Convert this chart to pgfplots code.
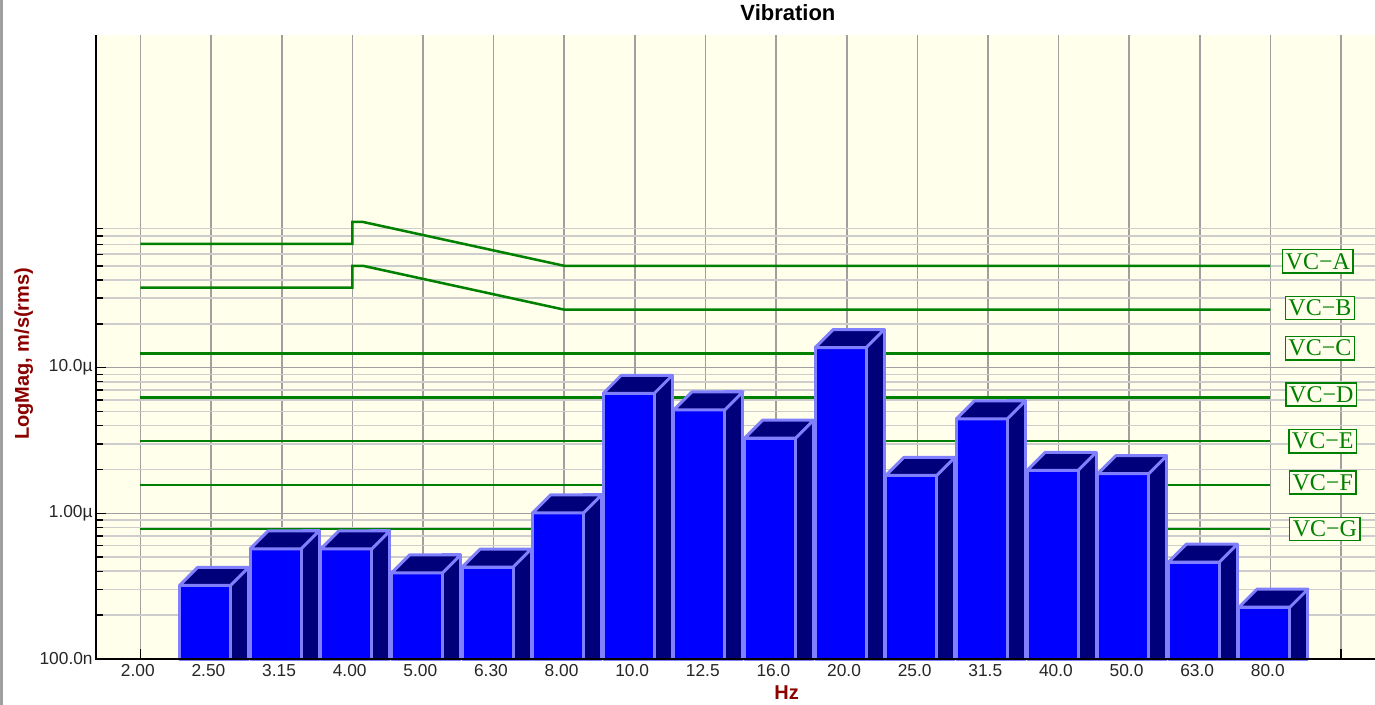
\documentclass[border=0pt]{standalone}
\usepackage{pgfplots}
\pgfplotsset{compat=1.18}
\usepackage{pgfplotstable}
\usepackage{fontspec}
\setmainfont{Liberation Sans}
\newfontfamily\vcfont{Liberation Serif}

\definecolor{bgy}{RGB}{255,255,236}
\definecolor{barblue}{RGB}{0,0,255}
\definecolor{barnavy}{RGB}{0,0,122}
\definecolor{baredge}{RGB}{128,128,255}
\definecolor{vcgreen}{RGB}{0,128,0}
\definecolor{lblred}{RGB}{140,0,0}
\definecolor{gridmaj}{RGB}{160,160,160}
\definecolor{gridmin}{RGB}{205,205,205}

\pgfplotstableread{
x v
1  3.20e-7
2  5.71e-7
3  5.71e-7
4  3.90e-7
5  4.27e-7
6  1.008e-6
7  6.67e-6
8  5.13e-6
9  3.28e-6
10 1.374e-5
11 1.82e-6
12 4.45e-6
13 1.97e-6
14 1.87e-6
15 4.62e-7
16 2.27e-7
}\bars

% top face of a 3D bar, drawn at the top centre of the category
\pgfdeclareplotmark{topface}{%
  \pgfpathmoveto{\pgfpoint{-23.625pt}{0pt}}%
  \pgfpathlineto{\pgfpoint{14.625pt}{0pt}}%
  \pgfpathlineto{\pgfpoint{28.125pt}{13.5pt}}%
  \pgfpathlineto{\pgfpoint{-10.125pt}{13.5pt}}%
  \pgfpathclose
  \pgfusepathqfillstroke
}

\begin{document}
\begin{tikzpicture}
\useasboundingbox (0,0) rectangle (1031.25pt,528.75pt);
\fill[white] (0,0) rectangle (1031.25pt,528.75pt);
\fill[gray!75] (0,0) rectangle (2.25pt,528.75pt);
\begin{axis}[
  at={(72pt,34.5pt)}, anchor=south west,
  scale only axis,
  width=959.25pt, height=468pt,
  xmin=-0.630, xmax=17.48,
  ymode=log, ymin=1e-7, ymax=1.92e-3,
  log origin y=infty,
  axis background/.style={fill=bgy},
  axis line style={draw=none},
  xtick={0,...,17},
  xticklabels={2.00,2.50,3.15,4.00,5.00,6.30,8.00,10.0,12.5,16.0,20.0,25.0,31.5,40.0,50.0,63.0,80.0,{}},
  ytick={1e-7,1e-6,1e-5},
  yticklabels={100.0n,1.00µ,10.0µ},
  minor ytick={2e-7,3e-7,4e-7,5e-7,6e-7,7e-7,8e-7,9e-7,
               2e-6,3e-6,4e-6,5e-6,6e-6,7e-6,8e-6,9e-6,
               2e-5,3e-5,4e-5,5e-5,6e-5,7e-5,8e-5,9e-5},
  tick pos=left,
  tick align=inside,
  major tick length=7.5pt,
  minor tick length=5.25pt,
  tick style={black, line width=1.1pt},
  grid=both,
  major grid style={gridmaj, line width=1.2pt},
  minor grid style={gridmin, line width=1.2pt},
  /pgf/number format/assume math mode=true,
  ticklabel style={font=\fontsize{13}{15}\selectfont, text=black!85},
  xticklabel style={anchor=center, yshift=-9pt, xshift=-2pt},
  yticklabel style={xshift=1pt},
  every axis title shift=0pt,
  title={Vibration},
  title style={font=\bfseries\fontsize{16.5}{19}\selectfont, at={(0.541,1.0353)}, anchor=center},
  xlabel={Hz},
  xlabel style={font=\bfseries\fontsize{15}{17}\selectfont, text=lblred, at={(0.540,-0.0545)}, anchor=center},
  ylabel={LogMag, m/s(rms)},
  ylabel style={font=\bfseries\fontsize{15}{17}\selectfont, text=lblred, at={(-0.0565,0.489)}, anchor=center, rotate=0},
  clip=false,
]
% vibration criteria lines
\addplot[vcgreen, line width=1.9pt] coordinates {(0,7.07e-5) (3,7.07e-5) (3,1e-4) (3.15,1e-4) (6,5e-5) (16,5e-5)};
\addplot[vcgreen, line width=1.9pt] coordinates {(0,3.54e-5) (3,3.54e-5) (3,5e-5) (3.15,5e-5) (6,2.5e-5) (16,2.5e-5)};
\addplot[vcgreen, line width=1.9pt] coordinates {(0,1.25e-5) (16,1.25e-5)};
\addplot[vcgreen, line width=1.9pt] coordinates {(0,6.25e-6) (16,6.25e-6)};
\addplot[vcgreen, line width=1.9pt] coordinates {(0,3.125e-6) (16,3.125e-6)};
\addplot[vcgreen, line width=1.9pt] coordinates {(0,1.5625e-6) (16,1.5625e-6)};
\addplot[vcgreen, line width=1.9pt] coordinates {(0,7.8e-7) (16,7.8e-7)};

% 3D bars: side face, front face, top face
\addplot[ybar, bar width=13.5pt, bar shift=21.375pt, fill=barnavy, draw=baredge, line width=2.25pt, line join=round]
  table[x=x, y expr=\thisrow{v}*1.329] {\bars};
\addplot[ybar, bar width=38.25pt, bar shift=-4.5pt, fill=barblue, draw=baredge, line width=2.25pt, line join=round]
  table[x=x, y=v] {\bars};
\addplot[only marks, mark=topface, mark options={fill=barnavy, draw=baredge, line width=2.25pt, line join=round}]
  table[x=x, y=v] {\bars};

% labels of the criteria
\tikzset{vclab/.style={draw=vcgreen, line width=1.1pt, fill=bgy, text=vcgreen,
  font=\vcfont\fontsize{18}{20}\selectfont, inner xsep=2.4pt, inner ysep=2.6pt}}
\node[vclab] at (axis cs:16.67,5e-5) [yshift=3.4pt] {VC−A};
\node[vclab] at (axis cs:16.70,2.5e-5) [yshift=1.2pt] {VC−B};
\node[vclab] at (axis cs:16.70,1.25e-5) [yshift=4pt] {VC−C};
\node[vclab] at (axis cs:16.72,6.25e-6) [yshift=2.2pt] {VC−D};
\node[vclab] at (axis cs:16.74,3.125e-6) {VC−E};
\node[vclab] at (axis cs:16.74,1.5625e-6) [yshift=1.9pt] {VC−F};
\node[vclab] at (axis cs:16.77,7.8e-7) {VC−G};
\end{axis}
\draw[black, line width=1.9pt] (72pt,502.5pt) -- (72pt,34.5pt) -- (1031.25pt,34.5pt);
\end{tikzpicture}
\end{document}
